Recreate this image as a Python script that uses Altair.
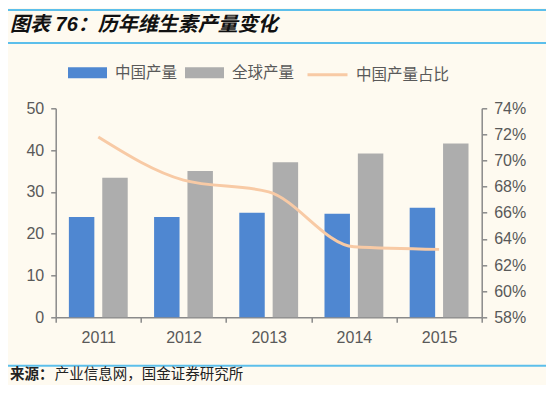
import altair as alt
import pandas as pd

years = ["2011", "2012", "2013", "2014", "2015"]
china = [24.0, 24.0, 25.0, 24.8, 26.2]
world = [33.4, 35.0, 37.1, 39.2, 41.6]
share = [0.718, 0.685, 0.676, 0.634, 0.632]
bar_series = ["中国产量", "全球产量"]
line_series = "中国产量占比"
left_ticks = [0, 10, 20, 30, 40, 50]
right_ticks = [0.58, 0.60, 0.62, 0.64, 0.66, 0.68, 0.70, 0.72, 0.74]

BLUE = "#4F87D1"
GRAY = "#ADADAD"
PEACH = "#F8CAA5"
AXIS = "#8A8A8A"
TEXT = "#595959"
RULE = "#5CBFEB"
BG = "#FEFAF0"
LATIN = "Liberation Sans"
CJK = "Noto Sans CJK SC"

bars_df = pd.DataFrame(
    [{"year": y, "series": bar_series[0], "value": c} for y, c in zip(years, china)]
    + [{"year": y, "series": bar_series[1], "value": w} for y, w in zip(years, world)]
)
line_df = pd.DataFrame({"year": years, "share": share, "series": [line_series] * len(years)})

x_enc = alt.X(
    "year:N",
    sort=years,
    scale=alt.Scale(paddingInner=0, paddingOuter=0),
    axis=alt.Axis(
        title=None, labelAngle=0, tickBand="extent", tickSize=5, labelPadding=7,
        labelFontSize=16, labelFont=LATIN, labelColor=TEXT,
        domainColor=AXIS, tickColor=AXIS, domainWidth=1.5, tickWidth=1.5,
    ),
)

bars = alt.Chart(bars_df).mark_bar().encode(
    x=x_enc,
    xOffset=alt.XOffset("series:N", sort=bar_series,
                        scale=alt.Scale(domain=bar_series, paddingInner=0.237, paddingOuter=0.395)),
    y=alt.Y(
        "value:Q",
        scale=alt.Scale(domain=[0, 50], nice=False),
        axis=alt.Axis(
            title=None, values=left_ticks, grid=False, tickSize=5, labelPadding=7,
            labelFontSize=16, labelFont=LATIN, labelColor=TEXT,
            domainColor=AXIS, tickColor=AXIS, domainWidth=1.5, tickWidth=1.5,
        ),
    ),
    color=alt.Color(
        "series:N",
        scale=alt.Scale(domain=bar_series, range=[BLUE, GRAY]),
        legend=alt.Legend(
            title=None, orient="none", legendX=12.3, legendY=-55, direction="horizontal",
            columns=2, symbolType="M-1,-0.28H1V0.28H-1Z", symbolSize=1521,
            symbolStrokeWidth=0, labelFontSize=15.5, labelFont=CJK, labelColor=TEXT,
            labelOffset=8, columnPadding=7, padding=0,
        ),
    ),
)

line = alt.Chart(line_df).mark_line(strokeWidth=3, interpolate="monotone").encode(
    x=alt.X("year:N", sort=years),
    y=alt.Y(
        "share:Q",
        scale=alt.Scale(domain=[0.58, 0.74], nice=False),
        axis=alt.Axis(
            title=None, orient="right", values=right_ticks, format=".0%", grid=False,
            tickSize=5, labelPadding=7, labelFontSize=16, labelFont=LATIN, labelColor=TEXT,
            domainColor=AXIS, tickColor=AXIS, domainWidth=1.5, tickWidth=1.5,
        ),
    ),
    stroke=alt.Stroke(
        "series:N",
        scale=alt.Scale(domain=[line_series], range=[PEACH]),
        legend=alt.Legend(
            title=None, orient="none", legendX=250.3, legendY=-55, direction="horizontal",
            symbolType="stroke", symbolSize=1600, symbolStrokeWidth=3,
            labelFontSize=15.5, labelFont=CJK, labelColor=TEXT, labelOffset=7, padding=0,
        ),
    ),
)

dummy = alt.Data(values=[{}])

def hrule(yv):
    return alt.Chart(dummy).mark_rule(color=RULE, strokeWidth=2).encode(
        x=alt.value(-47.7), x2=alt.value(494), y=alt.value(yv)
    )

title = alt.Chart(dummy).mark_text(
    text="图表 76：历年维生素产量变化", align="left", baseline="middle",
    fontSize=20, fontWeight="bold", fontStyle="italic", font=f"{LATIN}, {CJK}", color="#111111",
).encode(x=alt.value(-45.7), y=alt.value(-83.3))

src1 = alt.Chart(dummy).mark_text(
    text="来源：", align="left", baseline="middle", fontSize=14.5, fontWeight="bold",
    font=CJK, color="#222222",
).encode(x=alt.value(-45.7), y=alt.value(267))

src2 = alt.Chart(dummy).mark_text(
    text="产业信息网，国金证券研究所", align="left", baseline="middle", fontSize=14.5,
    font=CJK, color="#222222",
).encode(x=alt.value(-1), y=alt.value(267))

chart = (
    alt.layer(bars, line, hrule(-98.3), hrule(-65.3), hrule(257.4), title, src1, src2)
    .resolve_scale(y="independent", x="shared")
    .properties(
        width=426, height=209, background=BG,
        autosize=alt.AutoSizeParams(type="none"),
        padding={"left": 47.7, "top": 100.3, "right": 64.3, "bottom": 67.7},
    )
    .configure_view(stroke=None)
)

chart.save("out.html", embed_options={"renderer": "svg", "actions": False})
